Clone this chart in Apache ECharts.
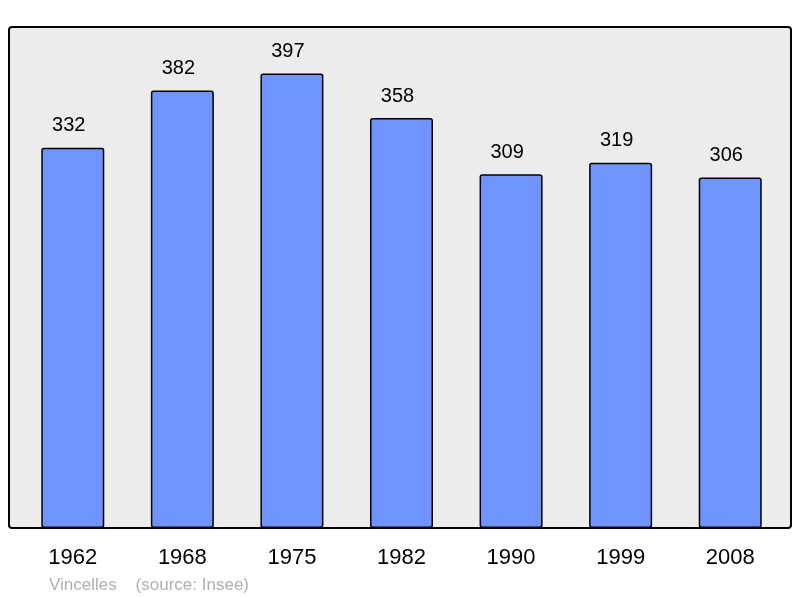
<!DOCTYPE html>
<html>
<head>
<meta charset="utf-8">
<script src="https://cdn.jsdelivr.net/npm/echarts@6/dist/echarts.min.js"></script>
<style>
  html, body { margin: 0; padding: 0; background: #fff; }
  #chart { width: 800px; height: 598px; }
</style>
</head>
<body>
<div id="chart"></div>
<script>
// population by census year
const years = ['1962', '1968', '1975', '1982', '1990', '1999', '2008'];
const population = [332, 382, 397, 358, 309, 319, 306];
const sourceText = 'Vincelles    (source: Insee)';

const chart = echarts.init(document.getElementById('chart'));

chart.setOption({
  animation: false,
  grid: { left: 18, right: 15, top: 27, bottom: 70 },
  graphic: [
    {
      type: 'rect',
      z: -10,
      shape: { x: 9, y: 27, width: 782, height: 501, r: 3 },
      style: { fill: '#ececec', stroke: '#000', lineWidth: 2 }
    },
    {
      type: 'text',
      left: 49,
      top: 577,
      style: { text: sourceText, fill: '#b0b0b0', font: '17px "Liberation Sans", Arial, sans-serif' }
    }
  ],
  xAxis: {
    type: 'category',
    data: years,
    axisLine: { show: false },
    axisTick: { show: false },
    axisLabel: {
      margin: 19,
      color: '#000',
      fontSize: 22,
      fontFamily: '"Liberation Sans", Arial, sans-serif'
    }
  },
  yAxis: {
    type: 'value',
    min: 0,
    max: 437.5,
    show: false,
    splitLine: { show: false }
  },
  series: [{
    type: 'bar',
    data: population,
    barWidth: 63,
    itemStyle: {
      color: '#7094ff',
      borderColor: '#000',
      borderWidth: 1.5,
      borderRadius: 2
    },
    label: {
      show: true,
      position: 'top',
      distance: 12,
      offset: [-4, 0],
      color: '#000',
      fontSize: 20,
      fontFamily: '"Liberation Sans", Arial, sans-serif'
    }
  }]
});
</script>
</body>
</html>
